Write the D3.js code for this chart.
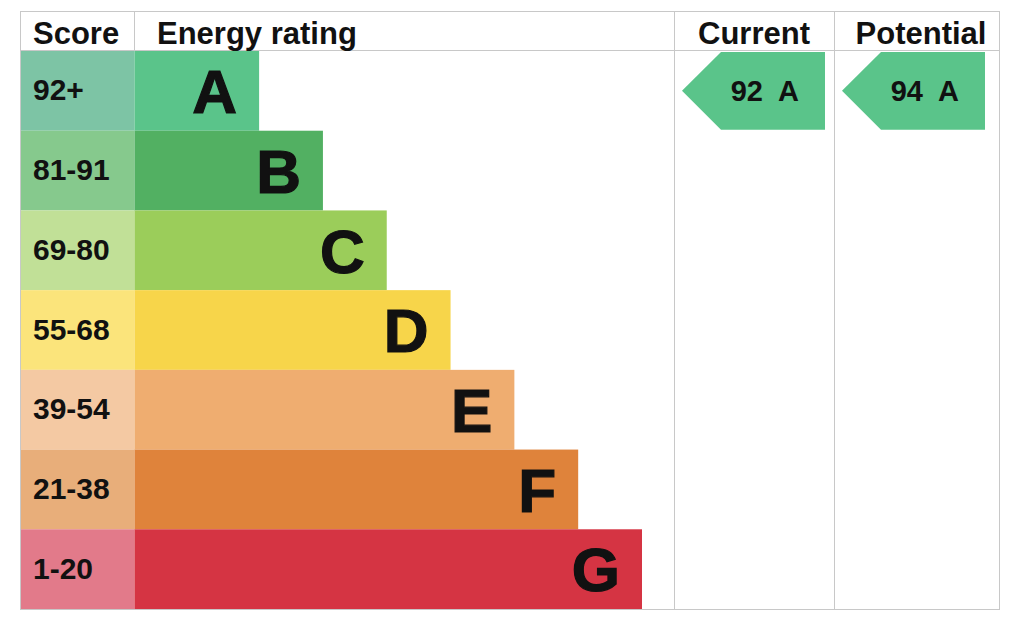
<!DOCTYPE html>
<html>
<head>
<meta charset="utf-8">
<script src="https://cdn.jsdelivr.net/npm/d3@7"></script>
<style>
  html, body { margin: 0; padding: 0; background: #fff; }
  svg { display: block; font-family: "Liberation Sans", Arial, Helvetica, sans-serif; }
</style>
</head>
<body>
<svg id="chart" width="1024" height="625"></svg>
<script>
// band data
const bands = ["A", "B", "C", "D", "E", "F", "G"];
const scoreRanges = ["92+", "81-91", "69-80", "55-68", "39-54", "21-38", "1-20"];
const bandSteps = [1, 2, 3, 4, 5, 6, 7];
const barColors = ["#5ac48a", "#52b062", "#9bcd5a", "#f7d54a", "#efad70", "#df833b", "#d53443"];
const scoreColors = ["#7dc4a5", "#86c98d", "#c1e097", "#fbe47b", "#f4c9a3", "#e8ae7a", "#e27a8a"];
const columns = ["Score", "Energy rating", "Current", "Potential"];
const ratingColumns = ["Current", "Potential"];
const ratingValues = [92, 94];
const ratingBands = ["A", "A"];

const svg = d3.select("#chart");
const tableLeft = 20, tableRight = 1000, tableTop = 11, headerBottom = 51, tableBottom = 609;
const scoreRight = 134.5;

// column edges
const colX = {
  Score: [tableLeft, scoreRight],
  "Energy rating": [scoreRight, 674],
  Current: [674, 834],
  Potential: [834, tableRight]
};

const y = d3.scaleBand().domain(bands).range([headerBottom, tableBottom]).paddingInner(0);
const x = d3.scaleLinear().domain([0, 7]).range([195.3, 642]);

const rows = bands.map((b, i) => ({ band: b, range: scoreRanges[i], step: bandSteps[i], bar: barColors[i], score: scoreColors[i] }));

// score cells
svg.selectAll(".score-cell")
  .data(rows)
  .join("rect")
  .attr("class", "score-cell")
  .attr("x", tableLeft)
  .attr("y", d => y(d.band))
  .attr("width", scoreRight - tableLeft)
  .attr("height", y.bandwidth())
  .attr("fill", d => d.score);

// bars
svg.selectAll(".bar")
  .data(rows)
  .join("rect")
  .attr("class", "bar")
  .attr("x", scoreRight)
  .attr("y", d => y(d.band))
  .attr("width", d => x(d.step) - scoreRight)
  .attr("height", y.bandwidth())
  .attr("fill", d => d.bar);

// score labels
svg.selectAll(".score-label")
  .data(rows)
  .join("text")
  .attr("class", "score-label")
  .attr("x", 33)
  .attr("y", d => y(d.band) + y.bandwidth() / 2)
  .attr("dy", "0.32em")
  .style("font-size", "30px")
  .style("font-weight", "bold")
  .style("fill", "#111")
  .text(d => d.range);

// band letters
svg.selectAll(".band-label")
  .data(rows)
  .join("text")
  .attr("class", "band-label")
  .attr("x", d => x(d.step) - 22)
  .attr("y", d => y(d.band) + y.bandwidth() / 2)
  .attr("dy", "0.36em")
  .attr("text-anchor", "end")
  .style("font-size", "62px")
  .style("font-weight", "bold")
  .style("fill", "#111")
  .style("stroke", "#111")
  .style("stroke-width", 1.2)
  .text(d => d.band);

// grid lines
const grid = svg.append("g").attr("stroke", "#c8c8c8").attr("stroke-width", 1).attr("fill", "none");
grid.append("line").attr("x1", tableLeft).attr("x2", tableRight).attr("y1", tableTop + 0.5).attr("y2", tableTop + 0.5);
grid.append("line").attr("x1", tableLeft).attr("x2", tableRight).attr("y1", headerBottom - 0.5).attr("y2", headerBottom - 0.5);
grid.append("line").attr("x1", tableLeft).attr("x2", tableRight).attr("y1", tableBottom + 0.5).attr("y2", tableBottom + 0.5);
[tableLeft + 0.5, scoreRight, 674.5, 834.5, tableRight - 0.5].forEach((cx, i) => {
  grid.append("line").attr("x1", cx).attr("x2", cx)
    .attr("y1", tableTop).attr("y2", i === 1 ? headerBottom : tableBottom + 1);
});

// headers
const headerX = { Score: 33, "Energy rating": 157, Current: 754, Potential: 921 };
svg.selectAll(".header")
  .data(columns)
  .join("text")
  .attr("class", "header")
  .attr("x", d => headerX[d])
  .attr("y", 44)
  .attr("text-anchor", d => (d === "Current" || d === "Potential") ? "middle" : "start")
  .style("font-size", "31px")
  .style("font-weight", "bold")
  .style("fill", "#111")
  .text(d => d);

// rating arrows
const arrows = ratingColumns.map((c, i) => ({ col: c, value: ratingValues[i], band: ratingBands[i] }));
const arrowW = 143, tipW = 39;

const ag = svg.selectAll(".arrow")
  .data(arrows)
  .join("g")
  .attr("class", "arrow")
  .attr("transform", d => `translate(${colX[d.col][0] + 8},${y(d.band)})`);

ag.append("path")
  .attr("d", () => {
    const h = y.bandwidth();
    return d3.line()([[0, h / 2], [tipW, 1], [arrowW, 1], [arrowW, h - 1], [tipW, h - 1]]) + "Z";
  })
  .attr("fill", d => barColors[bands.indexOf(d.band)]);

ag.append("text")
  .attr("x", 81)
  .attr("y", y.bandwidth() / 2)
  .attr("dy", "0.34em")
  .attr("text-anchor", "end")
  .style("font-size", "29px")
  .style("font-weight", "bold")
  .style("fill", "#111")
  .text(d => d.value);

ag.append("text")
  .attr("x", 96)
  .attr("y", y.bandwidth() / 2)
  .attr("dy", "0.34em")
  .style("font-size", "29px")
  .style("font-weight", "bold")
  .style("fill", "#111")
  .text(d => d.band);
</script>
</body>
</html>
